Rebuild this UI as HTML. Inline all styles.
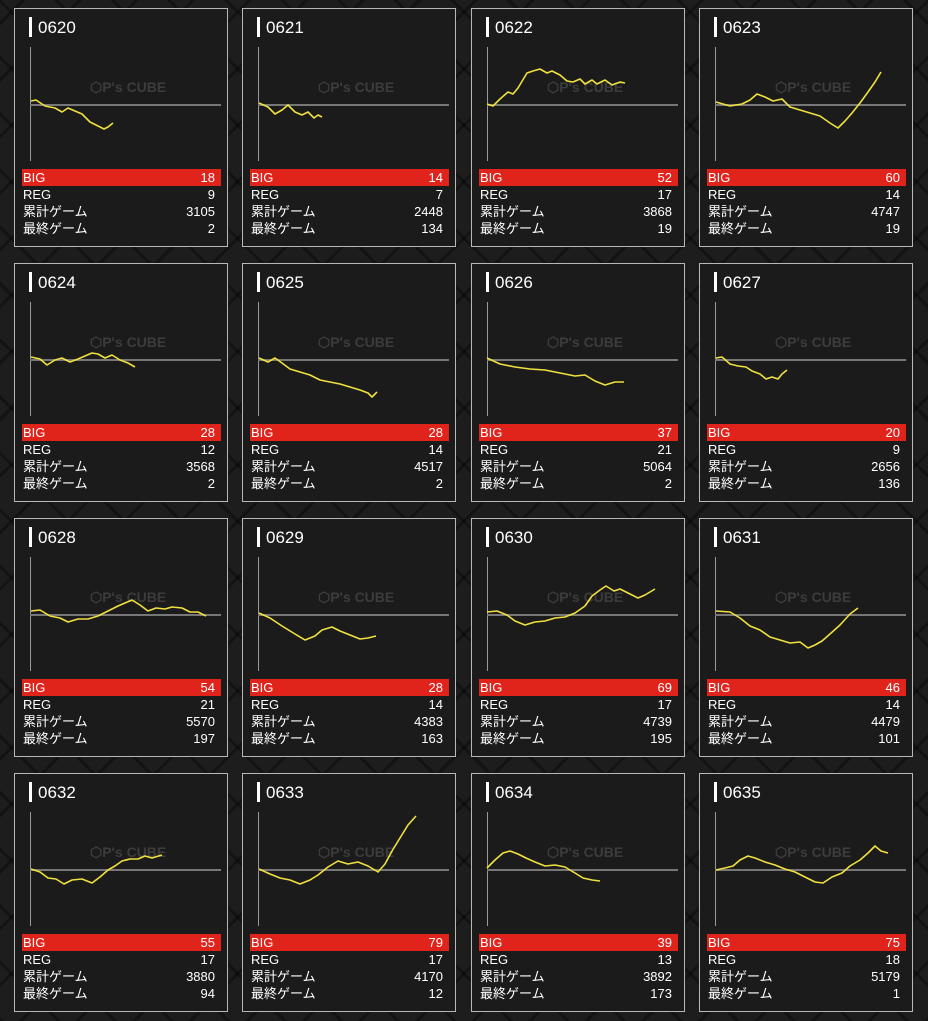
<!DOCTYPE html>
<html><head><meta charset="utf-8"><style>
body{margin:0;width:928px;height:1021px;overflow:hidden;background:#1d1d1d;
background-image:repeating-linear-gradient(45deg,rgba(0,0,0,.35) 0 3px,transparent 3px 40px),repeating-linear-gradient(-45deg,rgba(0,0,0,.35) 0 3px,transparent 3px 40px);
font-family:"Liberation Sans","Noto Sans CJK JP",sans-serif;position:relative}
.c{position:absolute;width:214px;height:239px;box-sizing:border-box;border:1px solid #b8b8b8;background:#1b1b1b}
.bar{position:absolute;left:14px;top:8px;width:3px;height:20px;background:#fff}
.t{position:absolute;left:23px;top:8px;font-size:17px;color:#fff;line-height:22px}
.va{position:absolute;left:15px;top:38px;width:1px;height:114px;background:#999}
.ha{position:absolute;left:15px;top:95px;width:191px;height:2px;background:#777}
.wm{position:absolute;left:75px;top:70px;color:#3c3c3c;font-weight:bold;font-size:14px}
.rows{position:absolute;left:7px;top:160px;width:199px;font-size:13px;color:#fff}
.rows div{height:17px;line-height:17px;display:flex;justify-content:space-between;padding:0 6px 0 1px}
.rows .b{background:#e0231b}
svg{position:absolute;left:0;top:0}
</style></head><body>

<div class="c" style="left:14px;top:8px"><div class="bar"></div><div class="t">0620</div><div class="va"></div><div class="ha"></div><div class="wm">⬡P's CUBE</div><div class="rows"><div class="b"><span>BIG</span><span>18</span></div><div><span>REG</span><span>9</span></div><div><span>累計ゲーム</span><span>3105</span></div><div><span>最終ゲーム</span><span>2</span></div></div></div>
<div class="c" style="left:242px;top:8px"><div class="bar"></div><div class="t">0621</div><div class="va"></div><div class="ha"></div><div class="wm">⬡P's CUBE</div><div class="rows"><div class="b"><span>BIG</span><span>14</span></div><div><span>REG</span><span>7</span></div><div><span>累計ゲーム</span><span>2448</span></div><div><span>最終ゲーム</span><span>134</span></div></div></div>
<div class="c" style="left:471px;top:8px"><div class="bar"></div><div class="t">0622</div><div class="va"></div><div class="ha"></div><div class="wm">⬡P's CUBE</div><div class="rows"><div class="b"><span>BIG</span><span>52</span></div><div><span>REG</span><span>17</span></div><div><span>累計ゲーム</span><span>3868</span></div><div><span>最終ゲーム</span><span>19</span></div></div></div>
<div class="c" style="left:699px;top:8px"><div class="bar"></div><div class="t">0623</div><div class="va"></div><div class="ha"></div><div class="wm">⬡P's CUBE</div><div class="rows"><div class="b"><span>BIG</span><span>60</span></div><div><span>REG</span><span>14</span></div><div><span>累計ゲーム</span><span>4747</span></div><div><span>最終ゲーム</span><span>19</span></div></div></div>

<div class="c" style="left:14px;top:263px"><div class="bar"></div><div class="t">0624</div><div class="va"></div><div class="ha"></div><div class="wm">⬡P's CUBE</div><div class="rows"><div class="b"><span>BIG</span><span>28</span></div><div><span>REG</span><span>12</span></div><div><span>累計ゲーム</span><span>3568</span></div><div><span>最終ゲーム</span><span>2</span></div></div></div>
<div class="c" style="left:242px;top:263px"><div class="bar"></div><div class="t">0625</div><div class="va"></div><div class="ha"></div><div class="wm">⬡P's CUBE</div><div class="rows"><div class="b"><span>BIG</span><span>28</span></div><div><span>REG</span><span>14</span></div><div><span>累計ゲーム</span><span>4517</span></div><div><span>最終ゲーム</span><span>2</span></div></div></div>
<div class="c" style="left:471px;top:263px"><div class="bar"></div><div class="t">0626</div><div class="va"></div><div class="ha"></div><div class="wm">⬡P's CUBE</div><div class="rows"><div class="b"><span>BIG</span><span>37</span></div><div><span>REG</span><span>21</span></div><div><span>累計ゲーム</span><span>5064</span></div><div><span>最終ゲーム</span><span>2</span></div></div></div>
<div class="c" style="left:699px;top:263px"><div class="bar"></div><div class="t">0627</div><div class="va"></div><div class="ha"></div><div class="wm">⬡P's CUBE</div><div class="rows"><div class="b"><span>BIG</span><span>20</span></div><div><span>REG</span><span>9</span></div><div><span>累計ゲーム</span><span>2656</span></div><div><span>最終ゲーム</span><span>136</span></div></div></div>

<div class="c" style="left:14px;top:518px"><div class="bar"></div><div class="t">0628</div><div class="va"></div><div class="ha"></div><div class="wm">⬡P's CUBE</div><div class="rows"><div class="b"><span>BIG</span><span>54</span></div><div><span>REG</span><span>21</span></div><div><span>累計ゲーム</span><span>5570</span></div><div><span>最終ゲーム</span><span>197</span></div></div></div>
<div class="c" style="left:242px;top:518px"><div class="bar"></div><div class="t">0629</div><div class="va"></div><div class="ha"></div><div class="wm">⬡P's CUBE</div><div class="rows"><div class="b"><span>BIG</span><span>28</span></div><div><span>REG</span><span>14</span></div><div><span>累計ゲーム</span><span>4383</span></div><div><span>最終ゲーム</span><span>163</span></div></div></div>
<div class="c" style="left:471px;top:518px"><div class="bar"></div><div class="t">0630</div><div class="va"></div><div class="ha"></div><div class="wm">⬡P's CUBE</div><div class="rows"><div class="b"><span>BIG</span><span>69</span></div><div><span>REG</span><span>17</span></div><div><span>累計ゲーム</span><span>4739</span></div><div><span>最終ゲーム</span><span>195</span></div></div></div>
<div class="c" style="left:699px;top:518px"><div class="bar"></div><div class="t">0631</div><div class="va"></div><div class="ha"></div><div class="wm">⬡P's CUBE</div><div class="rows"><div class="b"><span>BIG</span><span>46</span></div><div><span>REG</span><span>14</span></div><div><span>累計ゲーム</span><span>4479</span></div><div><span>最終ゲーム</span><span>101</span></div></div></div>

<div class="c" style="left:14px;top:773px"><div class="bar"></div><div class="t">0632</div><div class="va"></div><div class="ha"></div><div class="wm">⬡P's CUBE</div><div class="rows"><div class="b"><span>BIG</span><span>55</span></div><div><span>REG</span><span>17</span></div><div><span>累計ゲーム</span><span>3880</span></div><div><span>最終ゲーム</span><span>94</span></div></div></div>
<div class="c" style="left:242px;top:773px"><div class="bar"></div><div class="t">0633</div><div class="va"></div><div class="ha"></div><div class="wm">⬡P's CUBE</div><div class="rows"><div class="b"><span>BIG</span><span>79</span></div><div><span>REG</span><span>17</span></div><div><span>累計ゲーム</span><span>4170</span></div><div><span>最終ゲーム</span><span>12</span></div></div></div>
<div class="c" style="left:471px;top:773px"><div class="bar"></div><div class="t">0634</div><div class="va"></div><div class="ha"></div><div class="wm">⬡P's CUBE</div><div class="rows"><div class="b"><span>BIG</span><span>39</span></div><div><span>REG</span><span>13</span></div><div><span>累計ゲーム</span><span>3892</span></div><div><span>最終ゲーム</span><span>173</span></div></div></div>
<div class="c" style="left:699px;top:773px"><div class="bar"></div><div class="t">0635</div><div class="va"></div><div class="ha"></div><div class="wm">⬡P's CUBE</div><div class="rows"><div class="b"><span>BIG</span><span>75</span></div><div><span>REG</span><span>18</span></div><div><span>累計ゲーム</span><span>5179</span></div><div><span>最終ゲーム</span><span>1</span></div></div></div>

<svg width="928" height="1021" viewBox="0 0 928 1021"><g fill="none" stroke="#f0e040" stroke-width="1.6" stroke-linejoin="round">
<polyline points="31,101 36,100 45,106 55,108 62,112 68,108 75,111 82,114 90,122 98,126 104,129 108,127 113,123"/>
<polyline points="259,103 268,107 275,114 282,110 288,105 295,112 302,115 308,112 314,118 318,115 322,117"/>
<polyline points="487,104 493,106 500,99 508,92 513,94 518,88 527,73 533,71 540,69 547,73 552,71 560,75 567,81 573,82 580,79 585,84 592,80 597,84 605,80 612,85 620,82 625,83"/>
<polyline points="716,102 730,106 742,104 750,100 757,94 765,97 773,101 782,99 790,107 800,110 810,113 820,116 830,123 838,128 845,121 852,113 860,103 868,92 875,82 881,72"/>
<polyline points="31,357 40,359 47,365 55,360 62,358 70,362 78,359 85,356 92,353 98,354 105,358 112,355 120,360 128,363 135,367"/>
<polyline points="259,358 268,362 275,358 282,363 290,369 300,372 310,375 320,380 330,382 340,384 350,387 360,390 368,393 372,397 377,392"/>
<polyline points="487,358 500,364 515,367 530,369 545,370 560,373 575,376 585,375 595,381 605,385 615,382 624,382"/>
<polyline points="716,358 722,357 730,364 738,366 746,367 752,371 760,374 766,379 772,377 778,379 782,374 787,370"/>
<polyline points="31,611 40,610 50,616 60,618 68,622 78,619 88,619 98,616 108,611 118,606 125,603 132,600 140,605 148,611 156,608 165,609 172,607 182,608 190,612 198,612 206,616"/>
<polyline points="259,613 270,618 282,626 295,634 305,640 315,636 322,630 332,627 340,631 350,635 360,639 368,638 376,636"/>
<polyline points="487,612 497,611 507,615 515,621 525,625 535,622 545,621 555,618 565,617 575,613 585,606 592,596 600,590 606,586 614,591 620,589 630,594 638,598 645,595 655,589"/>
<polyline points="716,611 730,612 740,618 750,626 760,630 770,637 780,640 790,643 800,642 808,648 815,645 822,641 830,634 840,625 850,614 858,608"/>
<polyline points="31,869 40,872 48,878 56,879 64,884 72,880 82,879 92,883 100,877 108,870 115,866 122,861 130,859 138,859 145,856 152,858 162,855"/>
<polyline points="259,869 270,874 280,878 290,880 300,884 310,880 318,875 328,867 338,861 348,864 358,862 368,866 378,872 385,864 392,851 400,838 408,825 416,816"/>
<polyline points="487,868 495,860 503,853 510,851 518,854 526,858 535,862 545,866 555,865 565,867 575,873 583,878 592,880 600,881"/>
<polyline points="716,870 725,868 733,866 740,860 748,856 755,858 765,862 775,865 785,869 795,872 805,877 815,882 823,883 832,877 842,873 850,866 860,860 868,853 875,846 881,851 888,853"/>
</g></svg>
</body></html>
